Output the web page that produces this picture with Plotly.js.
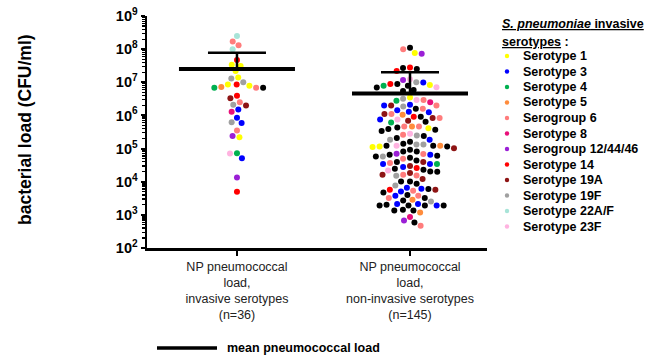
<!DOCTYPE html>
<html>
<head>
<meta charset="utf-8">
<script src="https://cdn.plot.ly/plotly-3.0.1.min.js"></script>
<style>html,body{margin:0;padding:0;background:#fff;}#chart{width:649px;height:358px;}</style>
</head>
<body>
<div id="chart"></div>
<script>
// ---------- data ----------
const groupLabels = [
  'NP pneumococcal<br>load,<br>invasive serotypes<br>(n=36)',
  'NP pneumococcal<br>load,<br>non-invasive serotypes<br>(n=145)'
];
const serotypeCodes = ['1','3','4','5','6','8','12','14','19A','19F','22','23F'];
const serotypeNames = ['Serotype 1','Serotype 3','Serotype 4','Serotype 5','Serogroup 6','Serotype 8',
  'Serogroup 12/44/46','Serotype 14','Serotype 19A','Serotype 19F','Serotype 22A/F','Serotype 23F'];
const serotypeColors = ['#ffff00','#0000ff','#00b050','#ff8c3c','#ff7c7c','#e8107a',
  '#9b1fd6','#ff0000','#8e1414','#a0a0a0','#a8e4d8','#ffb3e0'];
const otherColor = '#000000';

// invasive group (CFU/ml)
const leftValues = [2.5e8,1.7e8,1.3e8,1.0e8,4.7e7,3.1e7,3.4e7,2.2e7,1.3e7,1.4e7,1.0e7,8.5e6,7.2e6,6.9e6,6.8e6,
  6.9e6,7.9e6,8.5e6,3.9e6,3.3e6,2.1e6,2.5e6,2.0e6,1.5e6,1.3e6,8.5e5,5.9e5,6.2e5,3.5e5,2.4e5,2.2e5,7.2e4,7.1e4,
  5.1e4,1.35e4,5.0e3];
const leftTypes = ['22','6','6','22','14','1','1','1','19F','1','19F','14','5','6','NI','4','1','1','14','19A',
  '19F','6','19A','3','8','3','3','19F','6','12','1','4','23F','3','12','14'];

// non-invasive group (CFU/ml)
const rightValues = [
  9.9e7,7.2e7,7.7e7,1.1e8,
  2.8e7,2.5e7,2.2e7,2.7e7,
  1.18e7,9.8e6,8.9e6,8.3e6,7.8e6,1.24e7,8.9e6,1.0e7,7.0e6,5.9e6,5.5e6,7.8e6,7.1e6,
  3.45e6,2.9e6,2.5e6,2.9e6,2.75e6,3.2e6,
  2.0e6,2.0e6,1.6e6,1.44e6,1.6e6,1.85e6,2.0e6,2.1e6,
  1.3e6,1.1e6,1.04e6,9.1e5,8.3e5,9.2e5,1.1e6,1.25e6,
  7.5e5,6.9e5,8.3e5,7.5e5,6.1e5,6.4e5,
  4.6e5,4.3e5,3.9e5,4.6e5,4.1e5,4.6e5,3.7e5,
  2.5e5,2.8e5,2.6e5,2.4e5,
  1.84e5,1.84e5,
  1.39e5,1.32e5,1.21e5,1.15e5,1.03e5,1.21e5,1.11e5,1.15e5,1.21e5,1.21e5,1.32e5,1.6e5,
  8.1e4,6.5e4,6.8e4,5.8e4,5.8e4,6.1e4,6.5e4,7.0e4,8.1e4,5.3e4,
  3.9e4,3.65e4,3.4e4,3.0e4,2.76e4,3.4e4,3.4e4,3.9e4,4.4e4,
  2.18e4,2.04e4,1.82e4,1.62e4,1.54e4,1.62e4,2.0e4,1.51e4,2.3e4,2.58e4,
  1.02e4,1.02e4,1.2e4,7.7e3,
  6.0e3,5.7e3,5.3e3,4.7e3,5.1e3,5.7e3,6.1e3,6.6e3,
  3.2e3,2.72e3,3.8e3,2.54e3,2.86e3,3.2e3,4.0e3,3.8e3,
  2.12e3,1.92e3,1.92e3,2.02e3,1.92e3,1.92e3,1.92e3,2.12e3,
  1.36e3,1.18e3,1.43e3,1.36e3,
  8.6e2,6.7e2,5.9e2,4.7e2,
  3.4e5,2.1e5,9.2e4,4.9e4,2.45e4,8.7e3
];
const rightTypes = [
  '6','12','1','NI',
  '14','NI','14','NI',
  '12','3','NI','1','NI','23F','14','19F','NI','NI','NI','4','23F',
  '1','23F','8','6','4','19F',
  '19A','3','NI','3','6','19F','6','3',
  '3','6','5','NI','19A','14','19A','3',
  '23F','19A','6','3','4','NI',
  '5','NI','NI','6','1','6','NI',
  '19F','23F','6','NI',
  '3','19F',
  'NI','19F','23F','1','19A','NI','1','NI','NI','5','19F','NI',
  'NI','3','6','19F','NI','NI','NI','12','NI','NI',
  'NI','6','3','19A','3','3','4','19A','NI',
  '23F','NI','19A','6','6','19A','NI','19F','NI','14',
  'NI','NI','19A','19F',
  'NI','14','6','NI','3','19A','3','3',
  'NI','NI','6','19F','5','6','NI','3',
  '3','NI','NI','NI','3','NI','NI','3',
  'NI','5','NI','NI',
  '8','12','NI','6',
  'NI','NI','NI','6','NI','NI'
];

// mean and upper error bar (CFU/ml)
const meanValues = [2.5e7, 4.6e6];
const upperValues = [7.8e7, 2.0e7];

// ---------- layout geometry ----------
const W = 649, H = 358;
const M = {l: 147, r: 162, t: 16, b: 110};
const plotW = W - M.l - M.r, plotH = H - M.t - M.b;
const xRange = [-0.52, 1.445];
const yRange = [2, 9];
const pxPerX = plotW / (xRange[1] - xRange[0]);
const pxPerDec = plotH / (yRange[1] - yRange[0]);
const px2paperX = px => (px - M.l) / plotW;
const px2paperY = py => (H - M.b - py) / plotH;

// ---------- beeswarm placement ----------
function swarm(values, D) {
  const idx = values.map((v, i) => i).sort((a, b) => values[b] - values[a]);
  const placed = [];
  const out = new Array(values.length);
  idx.forEach(i => {
    const y = Math.log10(values[i]) * pxPerDec;
    const cands = [0];
    placed.forEach(p => {
      const dy = Math.abs(p.y - y);
      if (dy < D) {
        const dx = Math.sqrt(D * D - dy * dy);
        cands.push(p.x + dx, p.x - dx);
      }
    });
    cands.sort((a, b) => Math.abs(a) - Math.abs(b) || a - b);
    let chosen = 0;
    for (const c of cands) {
      let ok = true;
      for (const p of placed) {
        const dx = p.x - c, dy = p.y - y;
        if (dx * dx + dy * dy < D * D - 0.01) { ok = false; break; }
      }
      if (ok) { chosen = c; break; }
    }
    placed.push({x: chosen, y: y});
    out[i] = chosen;
  });
  return out;
}

const groups = [
  {values: leftValues, types: leftTypes, center: 0},
  {values: rightValues, types: rightTypes, center: 1}
];
groups.forEach(g => {
  const off = swarm(g.values, 7);
  g.xs = off.map(o => g.center + o / pxPerX);
});

// ---------- traces ----------
const traces = [];
const allCodes = serotypeCodes.concat(['NI']);
allCodes.forEach((code, k) => {
  const xs = [], ys = [];
  groups.forEach(g => {
    g.types.forEach((t, i) => { if (t === code) { xs.push(g.xs[i]); ys.push(g.values[i]); } });
  });
  traces.push({
    type: 'scatter', mode: 'markers', x: xs, y: ys,
    name: code === 'NI' ? 'other' : serotypeNames[k],
    marker: {size: 6, color: code === 'NI' ? otherColor : serotypeColors[k], line: {width: 0}},
    showlegend: false, hoverinfo: 'y'
  });
});

// mean lines
const hw = 58 / pxPerX;
const mx = [], my = [];
meanValues.forEach((m, i) => { mx.push(i - hw, i + hw, null); my.push(m, m, null); });
traces.push({type: 'scatter', mode: 'lines', x: mx, y: my, line: {color: '#000', width: 4},
  showlegend: false, hoverinfo: 'skip'});
// error bars (upper only)
traces.push({
  type: 'scatter', mode: 'markers', x: [0, 1], y: meanValues,
  marker: {size: 1, opacity: 0},
  error_y: {type: 'data', symmetric: false,
    array: upperValues.map((u, i) => u - meanValues[i]), arrayminus: [0, 0],
    width: 29, thickness: 2.5, color: '#000'},
  showlegend: false, hoverinfo: 'skip'
});

// ---------- axes ticks ----------
const majorVals = [], majorText = [], minorVals = [];
for (let e = yRange[0]; e <= yRange[1]; e++) {
  majorVals.push(Math.pow(10, e));
  majorText.push('<b>10<sup>' + e + '</sup></b>');
  if (e < yRange[1]) for (let m = 2; m <= 9; m++) minorVals.push(m * Math.pow(10, e));
}

const font = 'Liberation Sans, Arial, sans-serif';
const annotations = [];
const shapes = [];

// y title
annotations.push({xref: 'paper', yref: 'paper', x: px2paperX(25), y: px2paperY(130),
  text: '<b>bacterial load (CFU/ml)</b>', textangle: -90, showarrow: false,
  font: {family: font, size: 17.5, color: '#000'}, xanchor: 'center', yanchor: 'middle'});

// legend header
annotations.push({xref: 'paper', yref: 'paper', x: px2paperX(500), y: px2paperY(24),
  text: '<b><u><i>S. pneumoniae</i> invasive</u></b>', showarrow: false,
  font: {family: font, size: 12.5, color: '#000'}, xanchor: 'left', yanchor: 'middle'});
annotations.push({xref: 'paper', yref: 'paper', x: px2paperX(500), y: px2paperY(42),
  text: '<b><u>serotypes</u> :</b>', showarrow: false,
  font: {family: font, size: 12.5, color: '#000'}, xanchor: 'left', yanchor: 'middle'});

// legend entries
serotypeNames.forEach((name, i) => {
  const py = 56 + i * 15.5;
  annotations.push({xref: 'paper', yref: 'paper', x: px2paperX(521), y: px2paperY(py),
    text: '<b>' + name + '</b>', showarrow: false,
    font: {family: font, size: 12.5, color: '#000'}, xanchor: 'left', yanchor: 'middle'});
  shapes.push({type: 'circle', xref: 'paper', yref: 'paper', xsizemode: 'pixel', ysizemode: 'pixel',
    xanchor: px2paperX(507), yanchor: px2paperY(py), x0: -2.2, x1: 2.2, y0: -2.2, y1: 2.2,
    fillcolor: serotypeColors[i], line: {width: 0}});
});

// mean legend
shapes.push({type: 'line', xref: 'paper', yref: 'paper',
  x0: px2paperX(157), x1: px2paperX(217), y0: px2paperY(348), y1: px2paperY(348),
  line: {color: '#000', width: 3.5}});
annotations.push({xref: 'paper', yref: 'paper', x: px2paperX(225), y: px2paperY(348),
  text: '<b>mean pneumococcal load</b>', showarrow: false,
  font: {family: font, size: 12.5, color: '#000'}, xanchor: 'left', yanchor: 'middle'});

const layout = {
  width: W, height: H,
  margin: M,
  paper_bgcolor: '#fff', plot_bgcolor: '#fff',
  showlegend: false,
  xaxis: {
    range: xRange, showgrid: false, zeroline: false,
    showline: true, linecolor: '#000', linewidth: 2.5,
    ticks: 'outside', ticklen: 5, tickwidth: 2, tickcolor: '#000',
    tickvals: [0, 1], ticktext: groupLabels,
    tickfont: {family: font, size: 12.5, color: '#222'}
  },
  yaxis: {
    type: 'log', range: yRange, showgrid: false, zeroline: false,
    showline: true, linecolor: '#000', linewidth: 2.5,
    ticks: 'outside', ticklen: 4, tickwidth: 2, tickcolor: '#000',
    tickvals: majorVals, ticktext: majorText,
    tickfont: {family: font, size: 14.5, color: '#000'},
    minor: {tickvals: minorVals, ticks: 'outside', ticklen: 2.5, tickwidth: 1.2, tickcolor: '#000', showgrid: false}
  },
  annotations: annotations,
  shapes: shapes
};

Plotly.newPlot('chart', traces, layout, {staticPlot: true, displayModeBar: false});
</script>
</body>
</html>
